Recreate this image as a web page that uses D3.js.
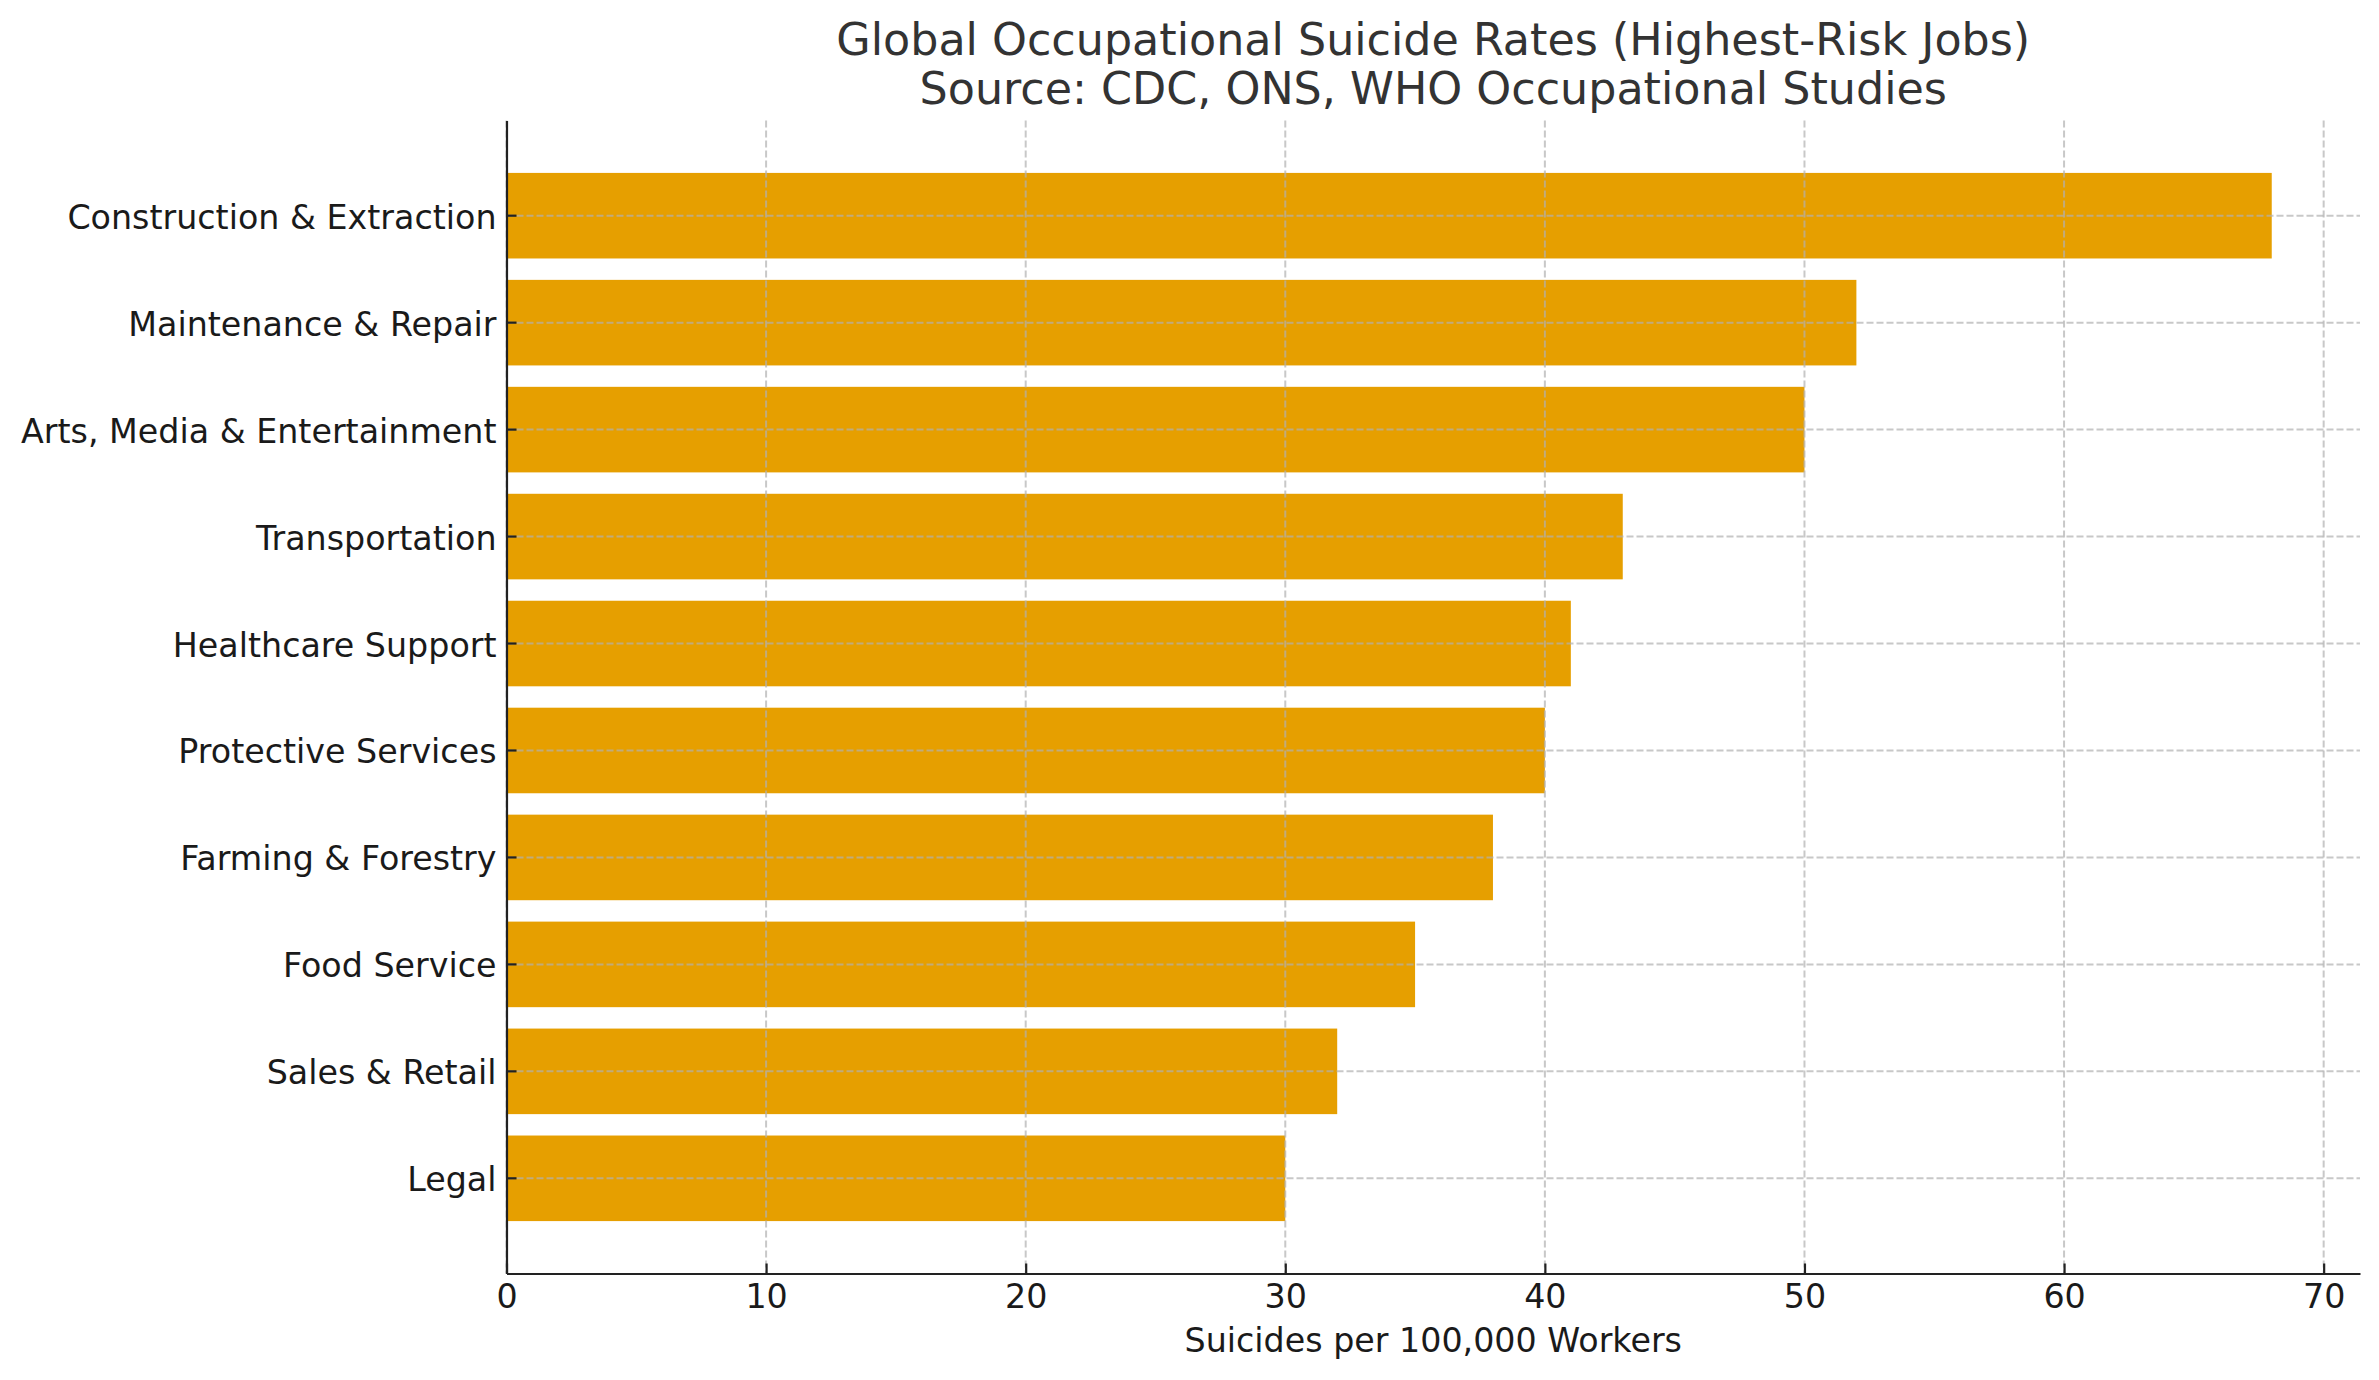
<!DOCTYPE html>
<html>
<head>
<meta charset="utf-8">
<script src="https://cdn.jsdelivr.net/npm/d3@7"></script>
<style>
  body { margin: 0; background: #fff; }
  text { font-family: "DejaVu Sans", sans-serif; }
</style>
</head>
<body>
<div id="main-vis"></div>
<script>
// chart data, top to bottom
var categories = ["Construction & Extraction", "Maintenance & Repair", "Arts, Media & Entertainment",
     "Transportation", "Healthcare Support", "Protective Services", "Farming & Forestry",
     "Food Service", "Sales & Retail", "Legal"];
var rates = [68, 52, 50, 43, 41, 40, 38, 35, 32, 30];
var xTicks = [0, 10, 20, 30, 40, 50, 60, 70];
var titleLines = ["Global Occupational Suicide Rates (Highest-Risk Jobs)",
     "Source: CDC, ONS, WHO Occupational Studies"];
var xLabel = "Suicides per 100,000 Workers";

var data = categories.map(function (c, i) {
     return { name: c, rate: rates[i] };
});

var W = 2379, H = 1380;
var margin = { top: 120.5, right: 19, bottom: 106.5, left: 506.5 };
var width = W - margin.left - margin.right;
var height = H - margin.top - margin.bottom;

var svg = d3.select("#main-vis").append("svg")
     .attr("width", W)
     .attr("height", H);

var g = svg.append("g")
     .attr("transform", "translate(" + margin.left + "," + margin.top + ")");

// x padded 5% like matplotlib
var x = d3.scaleLinear()
     .domain([0, d3.max(rates) * 1.05])
     .range([0, width]);

var y = d3.scaleBand()
     .domain(categories)
     .range([0, height])
     .paddingInner(0.2)
     .paddingOuter(0.49);

// bars
g.selectAll("rect.bar")
     .data(data)
     .enter().append("rect")
     .attr("class", "bar")
     .attr("x", x(0))
     .attr("y", function (d) { return y(d.name); })
     .attr("width", function (d) { return x(d.rate) - x(0); })
     .attr("height", y.bandwidth())
     .attr("fill", "#E69F00");

// grid on top of the bars
var grid = g.append("g")
     .attr("stroke", "#b0b0b0")
     .attr("stroke-opacity", 0.7)
     .attr("stroke-width", 2)
     .attr("stroke-dasharray", "7,3");
grid.selectAll("line.vx")
     .data(xTicks)
     .enter().append("line")
     .attr("x1", function (d) { return x(d); })
     .attr("x2", function (d) { return x(d); })
     .attr("y1", 0)
     .attr("y2", height);
grid.selectAll("line.hy")
     .data(categories)
     .enter().append("line")
     .attr("x1", 0)
     .attr("x2", width)
     .attr("y1", function (d) { return y(d) + y.bandwidth() / 2; })
     .attr("y2", function (d) { return y(d) + y.bandwidth() / 2; });

// axes (ticks point inward)
var xAxis = g.append("g")
     .attr("transform", "translate(0," + height + ")")
     .call(d3.axisBottom(x).tickValues(xTicks).tickSizeInner(-10).tickSizeOuter(0).tickPadding(11));
var yAxis = g.append("g")
     .call(d3.axisLeft(y).tickSizeInner(-10).tickSizeOuter(0).tickPadding(10));

[xAxis, yAxis].forEach(function (a) {
     a.select(".domain").attr("stroke", "#222").attr("stroke-width", 2.2);
     a.selectAll(".tick line").attr("stroke", "#222").attr("stroke-width", 2.2);
     a.selectAll(".tick text")
          .attr("fill", "#1a1a1a")
          .style("font-size", "33.3px")
          .style("font-family", "DejaVu Sans");
});
yAxis.selectAll(".tick text").attr("dy", "0.39em");

// title
svg.selectAll("text.title")
     .data(titleLines)
     .enter().append("text")
     .attr("class", "title")
     .attr("x", margin.left + width / 2)
     .attr("y", function (d, i) { return 54.5 + i * 49.5; })
     .attr("text-anchor", "middle")
     .attr("fill", "#333")
     .style("font-size", "44.4px")
     .text(function (d) { return d; });

// x label
svg.append("text")
     .attr("x", margin.left + width / 2)
     .attr("y", 1352)
     .attr("text-anchor", "middle")
     .attr("fill", "#1a1a1a")
     .style("font-size", "33.3px")
     .text(xLabel);
</script>
</body>
</html>
